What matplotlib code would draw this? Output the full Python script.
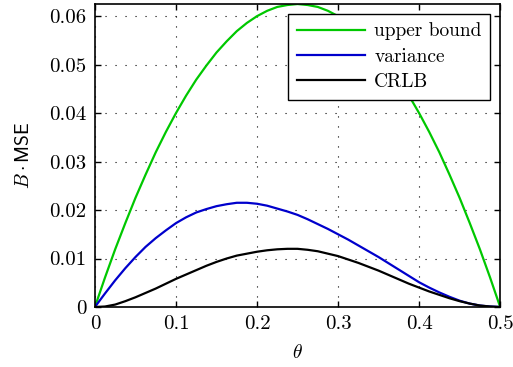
import matplotlib
matplotlib.use("Agg")
import matplotlib.pyplot as plt

# =========================
# DATA
# =========================
theta = [0.0, 0.0125, 0.025, 0.0375, 0.05, 0.0625, 0.075, 0.0875, 0.1, 0.1125,
         0.125, 0.1375, 0.15, 0.1625, 0.175, 0.1875, 0.2, 0.2125, 0.225, 0.2375,
         0.25, 0.2625, 0.275, 0.2875, 0.3, 0.3125, 0.325, 0.3375, 0.35, 0.3625,
         0.375, 0.3875, 0.4, 0.4125, 0.425, 0.4375, 0.45, 0.4625, 0.475, 0.4875,
         0.5]
upper_bound = [0.0, 0.0061, 0.0119, 0.0173, 0.0225, 0.0273, 0.0319, 0.0361,
               0.0400, 0.0436, 0.0469, 0.0498, 0.0525, 0.0548, 0.0569, 0.0586,
               0.0600, 0.0611, 0.0619, 0.0623, 0.0625, 0.0623, 0.0619, 0.0611,
               0.0600, 0.0586, 0.0569, 0.0548, 0.0525, 0.0498, 0.0469, 0.0436,
               0.0400, 0.0361, 0.0319, 0.0273, 0.0225, 0.0173, 0.0119, 0.0061,
               0.0]
variance = [0.0, 0.0028, 0.0055, 0.0080, 0.0103, 0.0124, 0.0142, 0.0158,
            0.0173, 0.0185, 0.0195, 0.0202, 0.0208, 0.0212, 0.0215, 0.0215,
            0.0213, 0.0209, 0.0203, 0.0197, 0.0190, 0.0181, 0.0171, 0.0161,
            0.0150, 0.0139, 0.0127, 0.0115, 0.0103, 0.0090, 0.0077, 0.0064,
            0.0051, 0.0040, 0.0030, 0.0021, 0.0013, 0.0007, 0.0003, 0.0001,
            0.0]
crlb = [0.0, 0.0001, 0.0005, 0.0012, 0.0020, 0.0029, 0.0038, 0.0048, 0.0058,
        0.0067, 0.0076, 0.0085, 0.0093, 0.0100, 0.0106, 0.0110, 0.0114, 0.0117,
        0.0119, 0.0120, 0.0120, 0.0118, 0.0115, 0.0110, 0.0105, 0.0098, 0.0091,
        0.0083, 0.0075, 0.0066, 0.0057, 0.0048, 0.0040, 0.0032, 0.0025, 0.0018,
        0.0012, 0.0007, 0.0003, 0.0001, 0.0]

xticks = [0, 0.1, 0.2, 0.3, 0.4, 0.5]
xtick_labels = ["0", "0.1", "0.2", "0.3", "0.4", "0.5"]
yticks = [0, 0.01, 0.02, 0.03, 0.04, 0.05, 0.06]
ytick_labels = ["0", "0.01", "0.02", "0.03", "0.04", "0.05", "0.06"]

# =========================
# STYLE
# =========================
plt.rcParams["font.family"] = ["cmr10", "DejaVu Serif"]
plt.rcParams["mathtext.fontset"] = "cm"
plt.rcParams["axes.unicode_minus"] = False
plt.rcParams["font.size"] = 14

fig = plt.figure(figsize=(5.13, 3.67), dpi=100)
ax = fig.add_axes([0.185, 0.1635, 0.79, 0.8255])

ax.plot(theta, upper_bound, color="#00c800", lw=1.6, label="upper bound")
ax.plot(theta, variance, color="#0000cc", lw=1.6, label="variance")
ax.plot(theta, crlb, color="black", lw=1.6, label="CRLB")

ax.set_xlim(0, 0.5)
ax.set_ylim(0, 0.0625)
ax.set_xticks(xticks)
ax.set_xticklabels(xtick_labels)
ax.set_yticks(yticks)
ax.set_yticklabels(ytick_labels)

ax.grid(True, color="black", linestyle=(0, (1, 8)), linewidth=0.8)
ax.tick_params(direction="in", top=True, right=True, length=4, width=1,
               pad=6, labelsize=15)
for s in ax.spines.values():
    s.set_linewidth(1.2)

ax.set_xlabel(r"$\theta$", labelpad=8)
ax.set_ylabel(r"$B \cdot \mathsf{MSE}$", labelpad=12)

leg = ax.legend(loc="upper right", fancybox=False, edgecolor="black",
                framealpha=1, borderaxespad=0.5, handlelength=3.5,
                labelspacing=0.38, borderpad=0.45, handletextpad=0.5)
leg.get_frame().set_linewidth(1.0)

fig.savefig("out.png", dpi=100)
plt.close(fig)
